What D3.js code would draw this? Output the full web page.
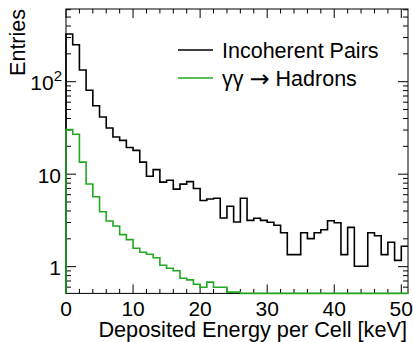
<!DOCTYPE html>
<html>
<head>
<meta charset="utf-8">
<script src="https://cdn.jsdelivr.net/npm/d3@7"></script>
<style>
  html, body { margin: 0; padding: 0; background: #fff; }
  svg { display: block; }
  text { font-family: "Liberation Sans", Arial, Helvetica, sans-serif; fill: #000; }
</style>
</head>
<body>
<svg id="chart" width="413" height="342"></svg>
<script>
// Lower edge of each 1 keV bin
const binLow = [0,1,2,3,4,5,6,7,8,9,10,11,12,13,14,15,16,17,18,19,20,21,22,23,24,25,
  26,27,28,29,30,31,32,33,34,35,36,37,38,39,40,41,42,43,44,45,46,47,48,49,50];
const binWidth = 1;

// Entries per bin: incoherent pairs
const incoherentPairs = [328,251,134,80.7,55,41.5,31.6,25.2,23.2,19.4,18.1,13.5,9.5,11.2,8.2,8.6,6.9,
  7.8,8.3,7.0,5.2,5.4,5.5,3.36,4.5,3.04,5.5,3.17,3.34,3.17,3.02,2.8,2.33,1.35,1.35,2.33,2.01,2.33,
  2.51,3.14,2.99,1.35,2.66,1.01,1.01,2.33,2.16,1.35,1.84,1.17,1.66];

// Entries per bin: gamma gamma -> hadrons
const hadrons = [30.3,27.0,13.5,7.83,5.7,3.93,3.12,2.75,2.22,1.96,1.58,1.43,1.36,1.25,1.035,0.96,0.905,
  0.75,0.72,0.645,0.6,0.68,0.6,0.6,0.53,0.53,0,0,0,0,0,0,0,0,0,0,0,0,0,0,0,0,0,0,0,0,0,0,0,0,0];

const xDomain = [0, 51];
const yDomain = [0.514, 611];
const xMajorTicks = [0, 10, 20, 30, 40, 50];
const xMinorTicks = [2,4,6,8,12,14,16,18,22,24,26,28,32,34,36,38,42,44,46,48];
const yMajorTicks = [1, 10, 100];
const yTickLabels = [["1", null], ["10", null], ["10", "2"]];

const seriesNames = ["Incoherent Pairs", "\u03B3\u03B3 \u2192 Hadrons"];
const seriesColors = ["#000000", "#22a822"];

const frame = { left: 66, right: 408, top: 9, bottom: 293.4 };

const svg = d3.select("#chart");
const x = d3.scaleLinear().domain(xDomain).range([frame.left, frame.right]);
const y = d3.scaleLog().domain(yDomain).range([frame.bottom, frame.top]);

// log minor ticks (2..9 of each decade) inside the range
const yMinorTicks = [];
for (let d = -1; d <= 2; d++) {
  for (let m = 2; m <= 9; m++) {
    const v = m * Math.pow(10, d);
    if (v >= yDomain[0] && v <= yDomain[1]) yMinorTicks.push(v);
  }
}

const axes = svg.append("g").attr("stroke", "#000").attr("stroke-width", 1).attr("fill", "none");

// frame box
axes.append("rect")
  .attr("x", frame.left).attr("y", frame.top)
  .attr("width", frame.right - frame.left).attr("height", frame.bottom - frame.top);

const majX = 9, minX = 4.5, majY = 10, minY = 5;

// x ticks on bottom and top
xMajorTicks.forEach(t => {
  axes.append("line").attr("x1", x(t)).attr("x2", x(t)).attr("y1", frame.bottom).attr("y2", frame.bottom - majX);
  axes.append("line").attr("x1", x(t)).attr("x2", x(t)).attr("y1", frame.top).attr("y2", frame.top + majX);
});
xMinorTicks.forEach(t => {
  axes.append("line").attr("x1", x(t)).attr("x2", x(t)).attr("y1", frame.bottom).attr("y2", frame.bottom - minX);
  axes.append("line").attr("x1", x(t)).attr("x2", x(t)).attr("y1", frame.top).attr("y2", frame.top + minX);
});

// y ticks on left and right
yMajorTicks.forEach(t => {
  axes.append("line").attr("y1", y(t)).attr("y2", y(t)).attr("x1", frame.left).attr("x2", frame.left + majY);
  axes.append("line").attr("y1", y(t)).attr("y2", y(t)).attr("x1", frame.right).attr("x2", frame.right - majY);
});
yMinorTicks.forEach(t => {
  axes.append("line").attr("y1", y(t)).attr("y2", y(t)).attr("x1", frame.left).attr("x2", frame.left + minY);
  axes.append("line").attr("y1", y(t)).attr("y2", y(t)).attr("x1", frame.right).attr("x2", frame.right - minY);
});

// x tick labels
svg.append("g").selectAll("text").data(xMajorTicks).join("text")
  .attr("x", d => x(d)).attr("y", 316)
  .attr("text-anchor", "middle").attr("font-size", 21)
  .text(d => d);

// y tick labels
const yl = svg.append("g");
yMajorTicks.forEach((t, i) => {
  const [base, sup] = yTickLabels[i];
  const txt = yl.append("text").attr("x", sup ? 62 : 61).attr("y", y(t) + 8.5)
    .attr("text-anchor", "end").attr("font-size", 21);
  txt.append("tspan").text(base);
  if (sup) txt.append("tspan").attr("font-size", 15).attr("dy", -9).text(sup);
});

// axis titles
svg.append("text")
  .attr("x", frame.right - 1).attr("y", 337)
  .attr("text-anchor", "end").attr("font-size", 21.7)
  .text("Deposited Energy per Cell [keV]");
svg.append("text")
  .attr("transform", `translate(25, ${frame.top}) rotate(-90)`)
  .attr("text-anchor", "end").attr("font-size", 21.5)
  .text("Entries");

// step histograms
const stepLine = d3.line()
  .x(d => x(d[0]))
  .y(d => y(Math.max(d[1], yDomain[0])))
  .curve(d3.curveStepAfter);

function histPoints(values) {
  const pts = [[binLow[0], yDomain[0]]];
  values.forEach((v, i) => pts.push([binLow[i], v]));
  pts.push([binLow[binLow.length - 1] + binWidth, values[values.length - 1]]);
  return pts;
}

[incoherentPairs, hadrons].forEach((vals, i) => {
  svg.append("path")
    .attr("d", stepLine(histPoints(vals)))
    .attr("fill", "none")
    .attr("stroke", seriesColors[i])
    .attr("stroke-width", 1.6);
});

// legend
const legend = svg.append("g");
seriesNames.forEach((name, i) => {
  const ly = 50 + i * 28;
  legend.append("line")
    .attr("x1", 178).attr("x2", 213).attr("y1", ly).attr("y2", ly)
    .attr("stroke", seriesColors[i]).attr("stroke-width", 1.6);
  const t = legend.append("text")
    .attr("x", 222).attr("y", ly + 7.5)
    .attr("font-size", 21.5);
  const arrowAt = name.indexOf("\u2192");
  if (arrowAt < 0) {
    t.text(name);
  } else {
    t.append("tspan").text(name.slice(0, arrowAt));
    t.append("tspan").attr("font-family", "DejaVu Sans").attr("font-size", 24)
      .attr("dy", 1).text("\u2192");
    t.append("tspan").attr("dy", -1).text(name.slice(arrowAt + 1));
  }
});
</script>
</body>
</html>
